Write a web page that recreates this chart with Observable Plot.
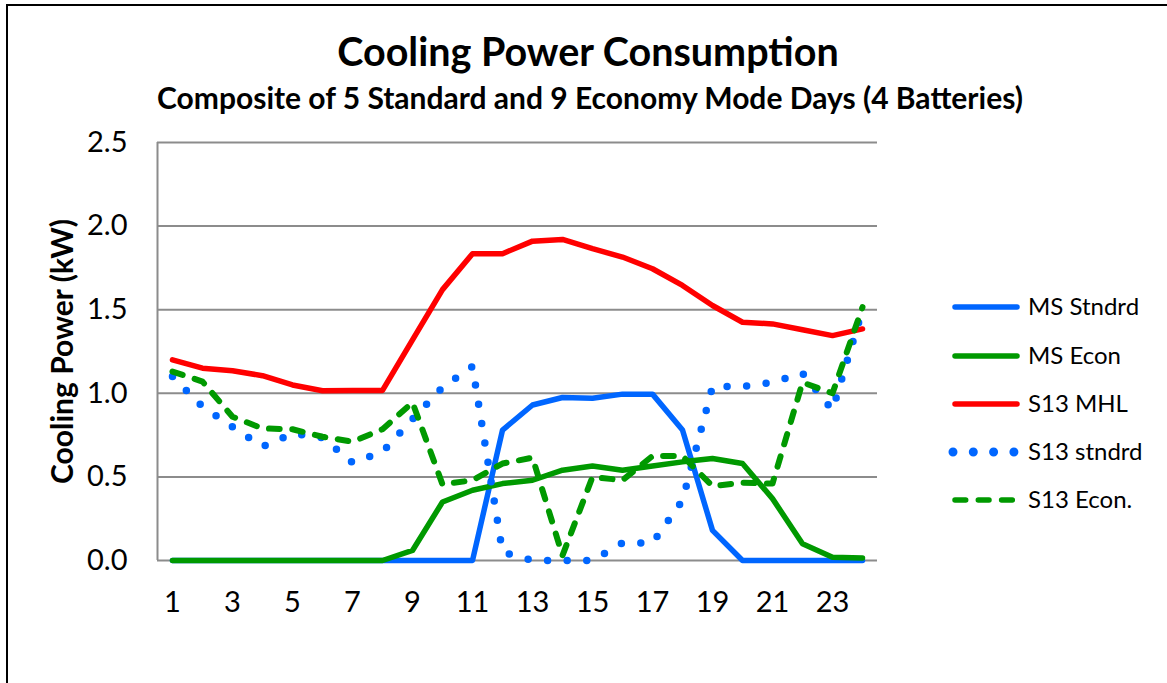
<!DOCTYPE html>
<html>
<head>
<meta charset="utf-8">
<script src="https://cdn.jsdelivr.net/npm/d3@7"></script>
<script src="https://cdn.jsdelivr.net/npm/@observablehq/plot@0.6"></script>
<style>
  html, body { margin: 0; padding: 0; background: #fff; overflow: hidden; }
  #wrap { position: relative; width: 1167px; height: 683px; overflow: hidden; font-family: Lato, "Open Sans", sans-serif; }
  #border { position: absolute; left: 6px; top: 4px; width: 3000px; height: 3000px; border-left: 2px solid #000; border-top: 2px solid #000; }
  #chart { position: absolute; left: 0; top: 0; }
  .overlay { position: absolute; left: 0; top: 0; pointer-events: none; }
</style>
</head>
<body>
<div id="wrap">
  <div id="border"></div>
  <div id="chart"></div>
  <svg class="overlay" width="1167" height="683" id="titles"></svg>
  <svg class="overlay" width="1167" height="683" id="legend"></svg>
</div>
<script>
// ---- data ----
const hours = [1,2,3,4,5,6,7,8,9,10,11,12,13,14,15,16,17,18,19,20,21,22,23,24];
const xTickLabels = [1,3,5,7,9,11,13,15,17,19,21,23];
const yTickLabels = [0,0.5,1.0,1.5,2.0,2.5];
const seriesNames = ["MS Stndrd","MS Econ","S13 MHL","S13 stndrd","S13 Econ."];
const msStndrd  = [0,0,0,0,0,0,0,0,0,0,0,0.78,0.93,0.975,0.97,0.995,0.995,0.78,0.18,0,0,0,0,0];
const msEcon    = [0,0,0,0,0,0,0,0,0.06,0.35,0.42,0.46,0.48,0.54,0.565,0.54,0.565,0.59,0.61,0.58,0.37,0.10,0.02,0.015];
const s13MHL    = [1.20,1.15,1.135,1.105,1.05,1.015,1.017,1.017,1.32,1.62,1.835,1.835,1.91,1.92,1.865,1.815,1.745,1.645,1.525,1.425,1.415,1.38,1.345,1.385];
const s13Stndrd = [1.10,0.92,0.80,0.68,0.76,0.735,0.585,0.65,0.845,1.035,1.16,0.05,0,0,0,0.105,0.105,0.36,1.04,1.04,1.065,1.12,0.90,1.50];
const s13Econ   = [1.13,1.07,0.86,0.79,0.785,0.74,0.71,0.785,0.945,0.455,0.48,0.58,0.615,0.03,0.50,0.48,0.625,0.625,0.445,0.465,0.46,1.065,1.0,1.515];
const titleText = "Cooling Power Consumption";
const subtitleText = "Composite of 5 Standard and 9 Economy Mode Days (4 Batteries)";
const yTitle = "Cooling Power (kW)";

// ---- styles (kept separate from data) ----
const BLUE = "#0066ff", GREEN = "#009900", RED = "#ff0000";
const styles = [
  {stroke: BLUE, strokeWidth: 5.5},
  {stroke: GREEN, strokeWidth: 5.5},
  {stroke: RED, strokeWidth: 5.5},
  {stroke: BLUE, strokeWidth: 7.5, strokeDasharray: "0,19.6"},
  {stroke: GREEN, strokeWidth: 6, strokeDasharray: "10.7,12.6"}
];
const allSeries = [msStndrd, msEcon, s13MHL, s13Stndrd, s13Econ];
const rows = vals => hours.map((h, i) => ({hour: h, kw: vals[i]}));

const chart = Plot.plot({
  width: 1167,
  height: 683,
  marginLeft: 157,
  marginRight: 290,
  marginTop: 142,
  marginBottom: 123,
  style: {fontFamily: "Lato, sans-serif", fontSize: "29px", color: "#000", background: "transparent", overflow: "visible"},
  x: {type: "linear", domain: [0.5, 24.5]},
  y: {domain: [0, 2.5]},
  marks: [
    Plot.gridY(yTickLabels, {stroke: "#8c8c8c", strokeOpacity: 1, strokeWidth: 2}),
    Plot.ruleX([0.5], {stroke: "#8c8c8c", strokeWidth: 2}),
    Plot.axisX(xTickLabels, {tickSize: 0, tickPadding: 31, label: null, fontSize: 29, tickFormat: d => String(d)}),
    Plot.axisY(yTickLabels, {tickSize: 0, tickPadding: 30, label: null, fontSize: 29, tickFormat: d3.format(".1f")}),
    ...allSeries.map((vals, i) => Plot.line(rows(vals), {
      x: "hour", y: "kw",
      strokeLinecap: "round", strokeLinejoin: "round",
      ...styles[i]
    })),
    Plot.text([yTitle], {frameAnchor: "left", textAnchor: "middle", rotate: -90, dx: -94, fontWeight: "bold", fontSize: 30, fill: "#000"})
  ]
});
document.getElementById("chart").appendChild(chart);

// ---- titles ----
const ns = "http://www.w3.org/2000/svg";
const tsvg = document.getElementById("titles");
function addText(svg, txt, x, y, size, weight, anchor) {
  const t = document.createElementNS(ns, "text");
  t.setAttribute("x", x); t.setAttribute("y", y);
  t.setAttribute("font-family", "Lato, sans-serif");
  t.setAttribute("font-size", size);
  t.setAttribute("font-weight", weight);
  t.setAttribute("text-anchor", anchor);
  t.setAttribute("fill", "#000");
  t.textContent = txt;
  svg.appendChild(t);
  return t;
}
addText(tsvg, titleText, 588, 66, 39.5, "bold", "middle");
addText(tsvg, subtitleText, 590, 109, 30, "bold", "middle");

// ---- legend ----
const lsvg = document.getElementById("legend");
const legendY = [307, 356, 404, 452, 500];
seriesNames.forEach((name, i) => {
  const y = legendY[i];
  const l = document.createElementNS(ns, "line");
  const st = styles[i];
  let x1 = 955, x2 = 1017;
  if (i === 3) { x1 = 953; x2 = 1014; }
  if (i === 4) { x1 = 955; x2 = 1013; }
  l.setAttribute("x1", x1); l.setAttribute("x2", x2);
  l.setAttribute("y1", y); l.setAttribute("y2", y);
  l.setAttribute("stroke", st.stroke);
  l.setAttribute("stroke-width", i === 3 ? 9 : 5.5);
  l.setAttribute("stroke-linecap", "round");
  if (i === 3) l.setAttribute("stroke-dasharray", "0,20.3");
  if (i === 4) l.setAttribute("stroke-dasharray", "10.7,12.6");
  lsvg.appendChild(l);
  addText(lsvg, name, 1028, y + 8, 24, "normal", "start");
});
</script>
</body>
</html>
